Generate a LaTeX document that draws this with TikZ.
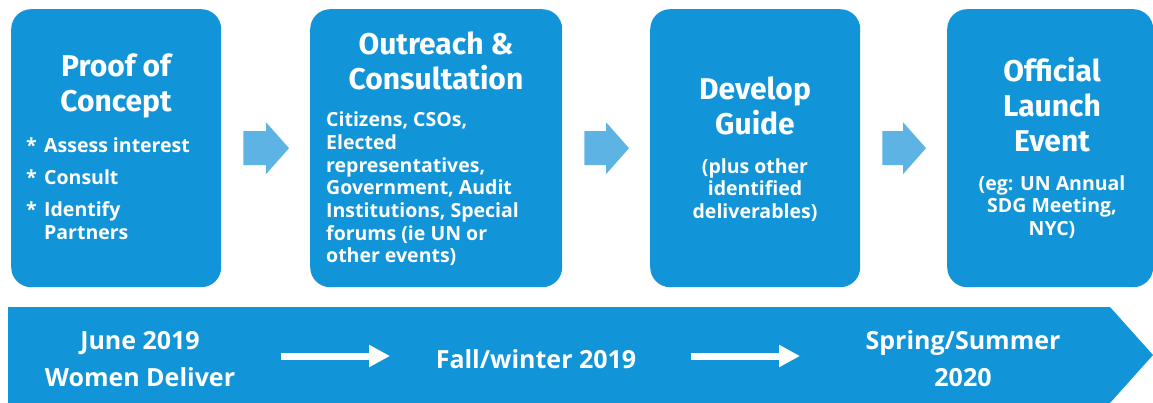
\documentclass[tikz,border=0pt]{standalone}
\usepackage{fontspec}
\setmainfont{Open Sans}
\newfontfamily\titlefont{Fira Sans}
\usetikzlibrary{arrows.meta,calc}
\definecolor{boxblue}{HTML}{1295D8}
\definecolor{arrowblue}{HTML}{5DB4E4}
\begin{document}
\begin{tikzpicture}[x=1pt,y=-1pt,
  stagebox/.style={fill=boxblue,draw=none,rounded corners=20pt,minimum width=210pt,minimum height=278pt,anchor=north west,inner sep=0pt},
  titletext/.style={text=white,inner sep=0pt,align=center,font=\titlefont\bfseries\fontsize{30}{35}\selectfont},
  bodytext/.style={text=white,inner sep=0pt,font=\bfseries\fontsize{19.5}{22.7}\selectfont},
  banntext/.style={text=white,inner sep=0pt,align=center,font=\bfseries\fontsize{25}{37}\selectfont},
  blockarrow/.style={fill=arrowblue,draw=none},
  timearrow/.style={draw=white,line width=7pt,-{Triangle[length=21pt,width=21pt]}}]
\useasboundingbox (0,0) rectangle (1153,403);
% stage boxes
\node[stagebox] (b1) at (11,9) {};
\node[stagebox,minimum width=252pt] (b2) at (310,9) {};
\node[stagebox] (b3) at (650,9) {};
\node[stagebox,minimum width=206pt] (b4) at (947,9) {};
% texts
\node[titletext] (t1) at (116,86) {Proof of\\Concept};
\node[bodytext,align=left,anchor=west] (d1) at (26,189) {\makebox[18pt][l]{*}Assess interest\\[9.3pt]\makebox[18pt][l]{*}Consult\\[9.3pt]\makebox[18pt][l]{*}Identify\\\makebox[18pt][l]{}Partners};
\node[titletext] (t2) at (436,61) {Outreach \&\\Consultation};
\node[bodytext,align=left,anchor=west] (d2) at (326,189) {Citizens, CSOs,\\Elected\\representatives,\\Government, Audit\\Institutions, Special\\forums (ie UN or\\other events)};
\node[titletext] (t3) at (755,106) {Develop\\Guide};
\node[bodytext,align=center] (d3) at (755,190) {(plus other\\identified\\deliverables)};
\node[titletext] (t4) at (1052,105) {Official\\Launch\\Event};
\node[bodytext,align=center] (d4) at (1052,207) {(eg: UN Annual\\SDG Meeting,\\NYC)};
% block arrows between stages
\foreach \a/\b/\n in {b1/b2/1,b2/b3/2,b3/b4/3}{
  \coordinate (s\n) at ($(\a.east)+(22,0)$);
  \coordinate (e\n) at ($(\b.west)+(-21,0)$);
  \fill[blockarrow] ($(s\n)+(0,-17)$) -- ($(e\n)+(-23,-17)$) -- ($(e\n)+(-23,-26)$) -- (e\n)
    -- ($(e\n)+(-23,26)$) -- ($(e\n)+(-23,17)$) -- ($(s\n)+(0,17)$) -- cycle;
}
% timeline banner
\coordinate (p1) at (8,307);
\coordinate (p2) at (1110,307);
\coordinate (p3) at (1153,355);
\coordinate (p4) at (1110,403);
\coordinate (p5) at (8,403);
\fill[boxblue] (p1) -- (p2) -- (p3) -- (p4) -- (p5) -- cycle;
\node[banntext] (m1) at (140,359) {June 2019\\Women Deliver};
\node[banntext] (m2) at (536,359) {Fall/winter 2019};
\node[banntext] (m3) at (963,359) {Spring/Summer\\2020};
\coordinate (a1s) at (281,356);
\coordinate (a1e) at (390,356);
\coordinate (a2s) at (691,356);
\coordinate (a2e) at (800,356);
\draw[timearrow] (a1s) -- (a1e);
\draw[timearrow] (a2s) -- (a2e);
\end{tikzpicture}
\end{document}
